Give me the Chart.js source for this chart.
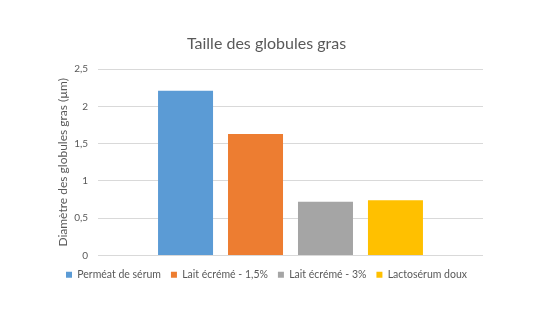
<!DOCTYPE html>
<html>
<head>
<meta charset="utf-8">
<script src="https://cdn.jsdelivr.net/npm/chart.js@4"></script>
<style>
  html, body { margin: 0; padding: 0; background: #ffffff; }
  #wrap { width: 533px; height: 315px; }
</style>
</head>
<body>
<div id="wrap"><canvas id="c" width="533" height="315"></canvas></div>
<script>
const categories = [''];
const seriesNames = ['Perméat de sérum', 'Lait écrémé - 1,5%', 'Lait écrémé - 3%', 'Lactosérum doux'];
const seriesValues = [2.21, 1.63, 0.72, 0.74];
const seriesColors = ['#5B9BD5', '#ED7D31', '#A5A5A5', '#FFC000'];
const yTickLabels = ['0', '0,5', '1', '1,5', '2', '2,5'];

const FONT = 'Lato, "Open Sans", sans-serif';
const TXT = '#595959';

const datasets = seriesNames.map((n, i) => ({
  label: n,
  data: [seriesValues[i]],
  backgroundColor: seriesColors[i],
  borderWidth: 0,
  barPercentage: 0.786,
  categoryPercentage: 0.727
}));

new Chart(document.getElementById('c'), {
  type: 'bar',
  data: { labels: categories, datasets },
  options: {
    responsive: false,
    animation: false,
    devicePixelRatio: 1,
    layout: { padding: { left: 0, right: 0, top: 0, bottom: 25 } },
    plugins: {
      title: {
        display: true,
        text: 'Taille des globules gras',
        color: TXT,
        font: { family: FONT, size: 16, weight: 'normal' },
        padding: { top: 34, bottom: 16 }
      },
      legend: {
        position: 'bottom',
        labels: {
          color: TXT,
          font: { family: FONT, size: 10.5 },
          boxWidth: 6,
          boxHeight: 6,
          padding: 10
        }
      },
      tooltip: { enabled: false }
    },
    scales: {
      x: {
        ticks: { display: false },
        grid: { display: false },
        border: { display: false },
        afterFit: (s) => { s.height = 4; }
      },
      y: {
        min: 0,
        max: 2.5,
        ticks: {
          stepSize: 0.5,
          color: TXT,
          font: { family: FONT, size: 10 },
          padding: 10,
          callback: (v, i) => yTickLabels[i]
        },
        grid: { color: '#D9D9D9', drawTicks: false },
        border: { display: false },
        title: {
          display: true,
          text: 'Diamètre des globules gras (µm)',
          color: TXT,
          font: { family: FONT, size: 12 },
          padding: { top: 56, bottom: 0 }
        },
        afterFit: (s) => { s.width = 98; }
      },
      yr: {
        position: 'right',
        display: true,
        min: 0,
        max: 2.5,
        ticks: { display: false },
        grid: { display: false },
        border: { display: false },
        afterFit: (s) => { s.width = 50; }
      }
    }
  }
});
</script>
</body>
</html>
